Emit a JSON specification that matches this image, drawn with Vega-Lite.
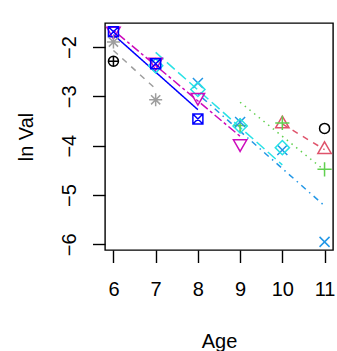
{
  "$schema": "https://vega.github.io/schema/vega-lite/v6.json",
  "width": 228,
  "height": 227,
  "autosize": {"type": "none"},
  "padding": {"left": 105, "top": 23, "right": 4, "bottom": 101},
  "background": "white",
  "config": {
    "view": {"stroke": "black", "strokeWidth": 1.4},
    "font": "Liberation Sans",
    "axis": {
      "domain": false,
      "grid": false,
      "tickColor": "black",
      "tickWidth": 1.4,
      "tickSize": 12.5,
      "labelColor": "black",
      "labelFont": "Liberation Sans",
      "labelFontSize": 20,
      "titleFont": "Liberation Sans",
      "titleFontSize": 20,
      "titleFontWeight": "normal",
      "titleColor": "black"
    }
  },
  "datasets": {
    "pts": [
      {"s": "c1", "age": 11, "val": -3.65},
      {"s": "c2", "age": 10, "val": -3.56},
      {"s": "c2", "age": 11, "val": -4.08},
      {"s": "c3", "age": 9, "val": -3.59},
      {"s": "c3", "age": 10, "val": -3.54},
      {"s": "c3", "age": 11, "val": -4.48},
      {"s": "c4", "age": 8, "val": -2.73},
      {"s": "c4", "age": 9, "val": -3.52},
      {"s": "c4", "age": 10, "val": -4.09},
      {"s": "c4", "age": 11, "val": -5.95},
      {"s": "c5", "age": 7, "val": -2.38},
      {"s": "c5", "age": 8, "val": -2.86},
      {"s": "c5", "age": 9, "val": -3.6},
      {"s": "c5", "age": 10, "val": -4.04},
      {"s": "c6", "age": 6, "val": -1.68},
      {"s": "c6", "age": 7, "val": -2.31},
      {"s": "c6", "age": 8, "val": -3.02},
      {"s": "c6", "age": 9, "val": -3.96},
      {"s": "c7", "age": 6, "val": -1.69},
      {"s": "c7", "age": 7, "val": -2.34},
      {"s": "c7", "age": 8, "val": -3.46},
      {"s": "c8", "age": 6, "val": -1.9},
      {"s": "c8", "age": 7, "val": -3.07},
      {"s": "c10", "age": 6, "val": -2.29}
    ],
    "fits": [
      {"s": "c2", "age": 10, "val": -3.56},
      {"s": "c2", "age": 11, "val": -4.08},
      {"s": "c3", "age": 9, "val": -3.12},
      {"s": "c3", "age": 11, "val": -4.5},
      {"s": "c4", "age": 8, "val": -2.95},
      {"s": "c4", "age": 11, "val": -5.22},
      {"s": "c5", "age": 7, "val": -2.11},
      {"s": "c5", "age": 10, "val": -4.39},
      {"s": "c6", "age": 6, "val": -1.66},
      {"s": "c6", "age": 9, "val": -3.81},
      {"s": "c7", "age": 6, "val": -1.75},
      {"s": "c7", "age": 8, "val": -3.27},
      {"s": "c8", "age": 6, "val": -2.07},
      {"s": "c8", "age": 7, "val": -2.85}
    ]
  },
  "encoding": {
    "x": {
      "field": "age", "type": "quantitative",
      "scale": {"domain": [5.8, 11.2], "nice": false, "zero": false},
      "axis": {
        "title": "Age",
        "values": [6, 7, 8, 9, 10, 11],
        "labelBaseline": "alphabetic",
        "labelPadding": 33,
        "labelFlush": false,
        "labelOverlap": false,
        "titleBaseline": "alphabetic",
        "titleAnchor": "middle",
        "titleX": 114,
        "titleY": 97.3
      }
    },
    "y": {
      "field": "val", "type": "quantitative",
      "scale": {"domain": [-6.115, -1.514], "nice": false, "zero": false},
      "axis": {
        "title": "ln Val",
        "values": [-6, -5, -4, -3, -2],
        "labelAngle": 270,
        "labelAlign": "center",
        "labelBaseline": "alphabetic",
        "labelPadding": 17.5,
        "labelFlush": false,
        "labelOverlap": false,
        "titleAngle": 270,
        "titleAlign": "center",
        "titleBaseline": "alphabetic",
        "titleX": -72.7,
        "titleY": 113.5
      }
    },
    "color": {
      "field": "s", "type": "nominal", "legend": null,
      "scale": {
        "domain": ["c1", "c2", "c3", "c4", "c5", "c6", "c7", "c8", "c10"],
        "range": ["#000000", "#DF536B", "#61D04F", "#2297E6", "#28E2E5", "#CD0BBC", "#0000FF", "#9E9E9E", "#000000"]
      }
    }
  },
  "layer": [
    {
      "data": {"name": "fits"},
      "mark": {"type": "line", "strokeWidth": 1.5, "clip": true},
      "encoding": {
        "detail": {"field": "s", "type": "nominal"},
        "strokeDash": {
          "field": "s", "type": "nominal", "legend": null,
          "scale": {
            "domain": ["c2", "c3", "c4", "c5", "c6", "c7", "c8"],
            "range": [[6, 6], [1.5, 4.5], [1.5, 4.5, 6, 4.5], [10.5, 4.5], [3, 3, 9, 3], [1, 0], [6, 6]]
          }
        }
      }
    },
    {
      "data": {"name": "pts"},
      "mark": {"type": "point", "filled": false, "size": 4, "strokeWidth": 1.5, "opacity": 1},
      "encoding": {
        "shape": {
          "field": "s", "type": "nominal", "legend": null,
          "scale": {
            "domain": ["c1", "c2", "c3", "c4", "c5", "c6", "c7", "c8", "c10"],
            "range": [
              "M-5,0A5,5,0,1,1,5,0A5,5,0,1,1,-5,0Z",
              "M0,-7.8L6.7,3.9L-6.7,3.9Z",
              "M-7.1,0L7.1,0M0,-7.1L0,7.1",
              "M-5,-5L5,5M-5,5L5,-5",
              "M0,-7.1L7.1,0L0,7.1L-7.1,0Z",
              "M0,7.8L6.7,-3.9L-6.7,-3.9Z",
              "M-5,-5L5,-5L5,5L-5,5ZM-5,-5L5,5M-5,5L5,-5",
              "M-6.5,0L6.5,0M0,-6.5L0,6.5M-4.6,-4.6L4.6,4.6M-4.6,4.6L4.6,-4.6",
              "M-5,0A5,5,0,1,1,5,0A5,5,0,1,1,-5,0ZM-5,0L5,0M0,-5L0,5"
            ]
          }
        }
      }
    }
  ]
}
